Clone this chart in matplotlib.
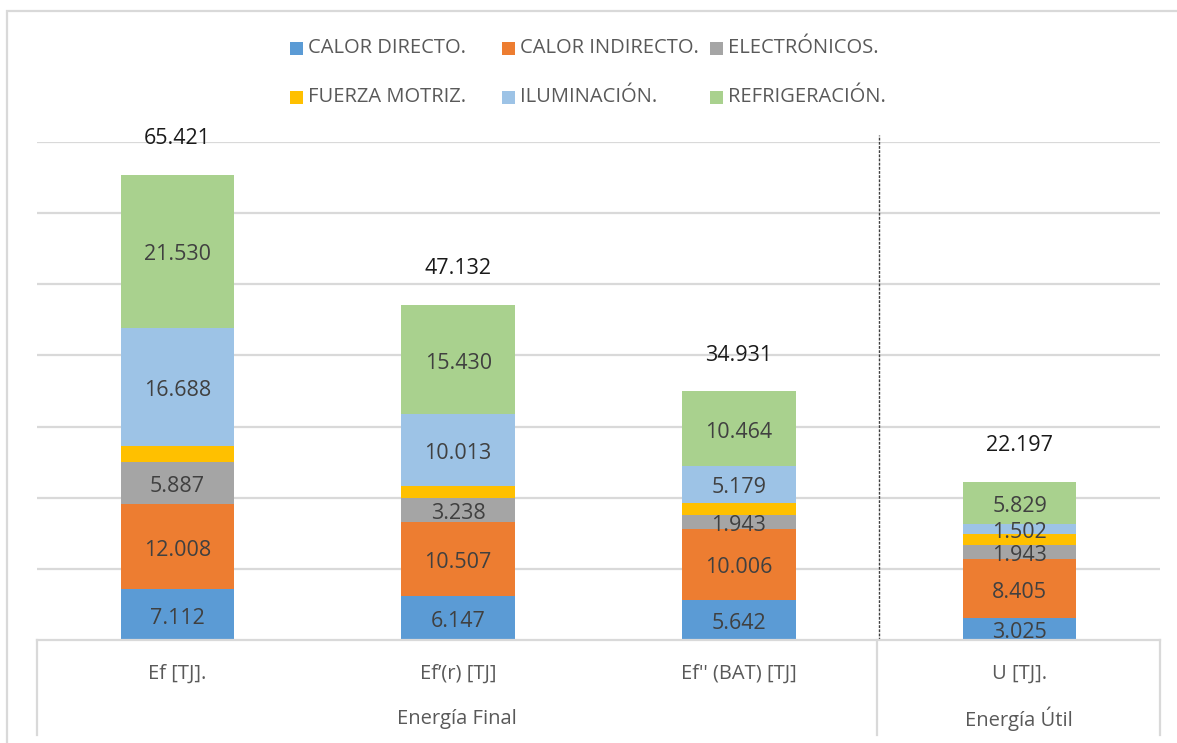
import matplotlib
matplotlib.use("Agg")
import matplotlib.pyplot as plt
from matplotlib.patches import Rectangle
from matplotlib.lines import Line2D

categories = ["Ef [TJ].", "Ef\u2019(r) [TJ]", "Ef'' (BAT) [TJ]", "U [TJ]."]
groups = ["Energía Final", "Energía Útil"]
series_names = ["CALOR DIRECTO.", "CALOR INDIRECTO.", "ELECTRÓNICOS.",
                "FUERZA MOTRIZ.", "ILUMINACIÓN.", "REFRIGERACIÓN."]
calor_directo = [7.112, 6.147, 5.642, 3.025]
calor_indirecto = [12.008, 10.507, 10.006, 8.405]
electronicos = [5.887, 3.238, 1.943, 1.943]
fuerza_motriz = [2.196, 1.797, 1.697, 1.493]
iluminacion = [16.688, 10.013, 5.179, 1.502]
refrigeracion = [21.530, 15.430, 10.464, 5.829]
totals = [65.421, 47.132, 34.931, 22.197]
show_labels = [True, True, True, False, True, True]
colors = ["#5B9BD5", "#ED7D31", "#A5A5A5", "#FFC000", "#9DC3E6", "#A9D18E"]

series = [calor_directo, calor_indirecto, electronicos, fuerza_motriz, iluminacion, refrigeracion]

plt.rcParams['font.family'] = ['Open Sans', 'DejaVu Sans']

W, H = 1177, 743
fig = plt.figure(figsize=(W / 100, H / 100), dpi=100)

def fx(px):
    return px / W

def fy(py):
    return 1 - py / H

x0, x1, ytop, ybase = 37, 1160, 142, 640
ax = fig.add_axes([fx(x0), fy(ybase), fx(x1 - x0), (ybase - ytop) / H])
ax.set_xlim(-0.5, 3.5)
ax.set_ylim(0, 70)
for s in ax.spines.values():
    s.set_visible(False)
ax.set_xticks([])
ax.set_yticks([])
for g in range(10, 71, 10):
    ax.axhline(g, color="#D9D9D9", lw=1.6, zorder=0)
ax.axhline(0, color="#D9D9D9", lw=1.6, zorder=3, clip_on=False)

xs = list(range(len(categories)))
bottom = [0.0] * len(categories)
for vals, name, col, lab in zip(series, series_names, colors, show_labels):
    ax.bar(xs, vals, bottom=bottom, width=0.405, color=col, zorder=2, label=name)
    if lab:
        for x, b, v in zip(xs, bottom, vals):
            ax.annotate(f"{v:.3f}", xy=(x, b + v / 2), xytext=(0, -2.5),
                        textcoords="offset points", ha="center", va="center",
                        color="#404040", fontsize=15.5, zorder=4)
    bottom = [b + v for b, v in zip(bottom, vals)]

for x, t, b in zip(xs, totals, bottom):
    ax.text(x, b + 5.1, f"{t:.3f}", ha="center", va="center", fontsize=15.5,
            color="#1a1a1a", clip_on=False)

ax.plot([2.5, 2.5], [0, 71], color="#404040", lw=1, ls=(0, (2, 1)), clip_on=False, zorder=1)

# category axis lines
lc = "#D9D9D9"
for xp in [x0, 877, x1]:
    fig.add_artist(Line2D([fx(xp), fx(xp)], [fy(ybase), fy(735)], color=lc, lw=1.6))
for i, c in enumerate(categories):
    xp = x0 + (i + 0.5) * (x1 - x0) / 4
    fig.text(fx(xp), fy(674), c, ha="center", va="center", fontsize=14.5, color="#595959")
fig.text(fx((x0 + 877) / 2), fy(719), groups[0], ha="center", va="center", fontsize=14.5, color="#595959")
fig.text(fx((877 + x1) / 2), fy(719), groups[1], ha="center", va="center", fontsize=14.5, color="#595959")

# outer border
fig.add_artist(Rectangle((fx(7), fy(760)), fx(1200), (760 - 11) / H, fill=False,
                         edgecolor="#D9D9D9", lw=1.6, transform=fig.transFigure))

# legend (two rows of three entries)
col_x = [290, 502, 710]
row_y = [48, 97]
sq = 13
for i, (name, col) in enumerate(zip(series_names, colors)):
    r, c = divmod(i, 3)
    xp, yp = col_x[c], row_y[r]
    fig.add_artist(Rectangle((fx(xp), fy(yp + sq / 2)), sq / W, sq / H,
                             facecolor=col, edgecolor="none", transform=fig.transFigure))
    fig.text(fx(xp + sq + 5), fy(yp), name, ha="left", va="center",
             fontsize=14.5, color="#595959")

fig.savefig("out.png", dpi=100)
